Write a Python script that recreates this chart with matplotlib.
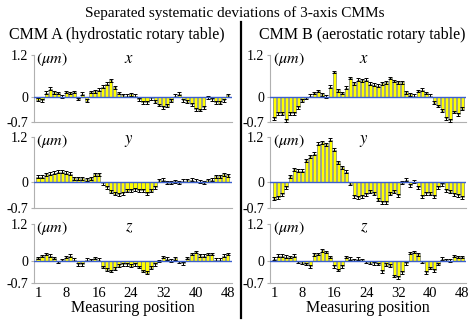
import numpy as np
import matplotlib
matplotlib.use('Agg')
import matplotlib.pyplot as plt
from matplotlib.lines import Line2D

plt.rcParams['font.family'] = ['Liberation Serif', 'DejaVu Serif']
plt.rcParams['mathtext.fontset'] = 'stix'

positions = list(range(1, 49))
x_ticks = [1, 8, 16, 24, 32, 40, 48]
y_ticks = [-0.7, 0, 1.2]
y_tick_labels = ['-0.7', '0', '1.2']

# CMM A (hydrostatic rotary table)
a_x = [-0.07, -0.08, 0.13, 0.24, 0.14, 0.12, 0.02, 0.15, 0.12, 0.15, -0.05, 0.10,
       -0.10, 0.15, 0.17, 0.22, 0.30, 0.38, 0.48, 0.28, 0.12, 0.06, 0.04, 0.08,
       0.05, -0.06, -0.14, -0.14, -0.03, -0.12, -0.22, -0.28, -0.24, -0.10, 0.05, 0.10,
       -0.08, -0.12, -0.20, -0.34, -0.36, -0.28, 0.00, -0.06, -0.14, -0.15, -0.08, 0.06]
a_y = [0.13, 0.14, 0.20, 0.22, 0.24, 0.27, 0.27, 0.24, 0.22, 0.10, 0.09, 0.09,
       0.07, 0.09, 0.20, 0.20, -0.04, -0.14, -0.26, -0.32, -0.33, -0.31, -0.24, -0.22,
       -0.20, -0.22, -0.22, -0.30, -0.24, -0.14, 0.04, 0.06, -0.03, -0.03, 0.02, -0.02,
       0.03, 0.04, 0.05, 0.03, 0.00, -0.03, 0.04, 0.05, 0.15, 0.15, 0.20, 0.18]
a_z = [0.10, 0.16, 0.23, 0.18, 0.10, -0.03, 0.03, 0.14, 0.18, 0.05, -0.10, -0.10,
       0.05, 0.03, 0.10, 0.05, -0.18, -0.27, -0.32, -0.24, -0.14, -0.10, -0.10, -0.14,
       -0.10, -0.18, -0.32, -0.37, -0.21, -0.10, 0.00, 0.13, 0.08, 0.02, 0.09, -0.03,
       -0.07, 0.10, 0.23, 0.29, 0.19, 0.18, 0.24, 0.24, 0.05, 0.05, 0.18, 0.23]

# CMM B (aerostatic rotary table)
b_x = [-0.60, -0.45, -0.47, -0.65, -0.45, -0.45, -0.28, -0.10, -0.02, 0.05, 0.12, 0.18,
       0.08, 0.02, 0.30, 0.72, 0.20, 0.12, 0.27, 0.55, 0.40, 0.50, 0.48, 0.50,
       0.38, 0.36, 0.33, 0.40, 0.43, 0.55, 0.46, 0.43, 0.43, 0.14, 0.08, 0.05,
       0.18, 0.22, 0.12, 0.04, -0.15, -0.25, -0.38, -0.60, -0.65, -0.42, -0.48, -0.32]
b_y = [-0.45, -0.41, -0.33, -0.14, 0.15, 0.33, 0.30, 0.30, 0.58, 0.68, 0.75, 1.02,
       1.06, 1.00, 1.12, 0.86, 0.52, 0.39, 0.27, -0.05, -0.39, -0.41, -0.39, -0.33,
       -0.27, -0.32, -0.48, -0.54, -0.54, -0.32, -0.27, -0.36, -0.03, 0.05, -0.09, 0.00,
       -0.15, -0.39, -0.30, -0.32, -0.39, -0.14, -0.06, -0.22, -0.27, -0.33, -0.36, -0.41]
b_z = [0.08, 0.18, 0.18, 0.15, 0.13, 0.18, -0.03, -0.05, -0.09, -0.17, 0.22, 0.24,
       0.35, 0.29, 0.13, -0.17, -0.28, -0.17, 0.13, 0.08, 0.04, 0.08, 0.04, -0.03,
       -0.05, -0.07, -0.09, -0.33, -0.11, -0.14, -0.47, -0.52, -0.36, -0.07, 0.26, 0.29,
       0.22, -0.03, -0.36, -0.22, -0.30, -0.09, 0.08, 0.04, 0.02, 0.16, 0.13, 0.13]

err_size = 0.04

fig = plt.figure(figsize=(4.69, 3.20), dpi=100)

# [left, bottom, width, height] for each row / column
rows = [(0.619, 0.209), (0.350, 0.222), (0.116, 0.184)]
cols = [(0.0725, 0.422), (0.576, 0.418)]

panels = [[(a_x, 'x'), (a_y, 'y'), (a_z, 'z')],
          [(b_x, 'x'), (b_y, 'y'), (b_z, 'z')]]

for c, (left, width) in enumerate(cols):
    for r, (bottom, height) in enumerate(rows):
        vals, name = panels[c][r]
        ax = fig.add_axes([left, bottom, width, height])
        ax.bar(positions, vals, width=0.8, color='#ffff00',
               edgecolor='#55608a', linewidth=0.4, zorder=2)
        ax.errorbar(positions, vals, yerr=err_size, fmt='none', ecolor='black',
                    elinewidth=0.7, capsize=1.2, capthick=0.7, zorder=3)
        ax.axhline(0, color='#3a5fcd', linewidth=1.0, zorder=4)
        ax.set_xlim(0, 49)
        ax.set_ylim(-0.7, 1.2)
        ax.set_yticks(y_ticks)
        ax.set_yticklabels(y_tick_labels, fontsize=10)
        ax.set_xticks(x_ticks)
        if r == 2:
            ax.set_xticklabels([str(t) for t in x_ticks], fontsize=10.5)
            ax.set_xlabel('Measuring position', fontsize=11.5, labelpad=0)
        else:
            ax.set_xticklabels([])
        for s in ['top', 'right']:
            ax.spines[s].set_visible(False)
        for s in ['left', 'bottom']:
            ax.spines[s].set_color('#b0b0b0')
            ax.spines[s].set_linewidth(0.8)
        ax.tick_params(axis='both', length=2, color='#b0b0b0', pad=2)
        ax.tick_params(axis='x', length=0, pad=3)
        ax.text(0.6, 1.08, r'$(\mu m)$', fontsize=11.5, va='center', ha='left')
        ax.text(23.5, 1.08, r'$' + name + '$', fontsize=12, va='center', ha='center')

fig.text(0.5, 1 - 13 / 320, 'Separated systematic deviations of 3-axis CMMs',
         ha='center', va='center', fontsize=11)
fig.text(117 / 469, 1 - 35 / 320, 'CMM A (hydrostatic rotary table)',
         ha='center', va='center', fontsize=11.5)
fig.text(362 / 469, 1 - 35 / 320, 'CMM B (aerostatic rotary table)',
         ha='center', va='center', fontsize=11.5)
fig.add_artist(Line2D([241 / 469, 241 / 469], [1 - 22 / 320, 1 - 318 / 320],
                      transform=fig.transFigure, color='black', linewidth=1.6))

fig.savefig('out.png', dpi=100)
